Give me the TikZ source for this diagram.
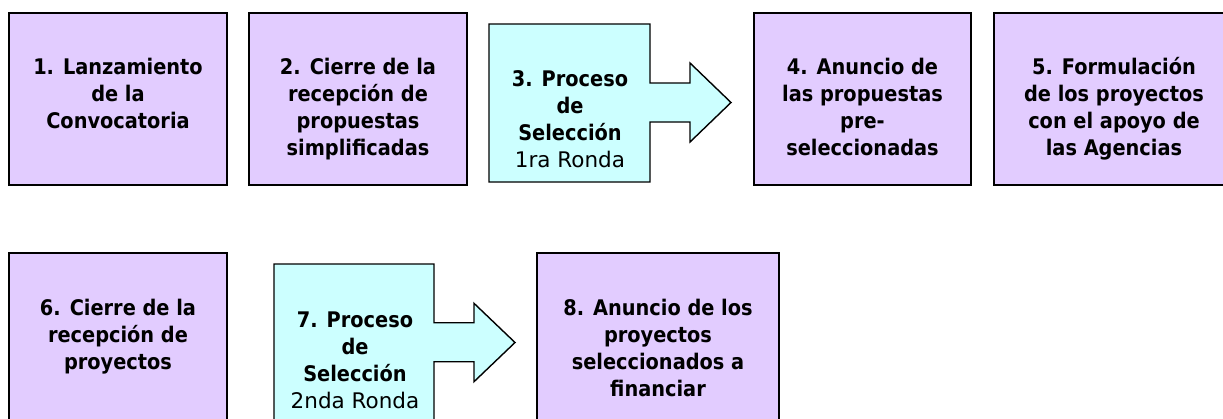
\documentclass[tikz,border=0pt]{standalone}
\usepackage{fontspec}
\setmainfont{DejaVu Sans Condensed}
\newfontfamily\regfont{DejaVu Sans}
\definecolor{lav}{RGB}{226,204,255}
\definecolor{cyanfill}{RGB}{204,255,255}
\tikzset{
  pbox/.style={draw=black, line width=1.4pt, fill=lav, rectangle, inner sep=0pt, outer sep=0pt},
  abox/.style={draw=black, line width=1.4pt, fill=cyanfill, line join=miter},
  txt/.style={anchor=north, inner sep=0pt, align=center, font=\fontsize{21.5}{27}\selectfont\bfseries},
}
\begin{document}
\begin{tikzpicture}[x=1pt,y=-1pt]
\useasboundingbox (0,0) rectangle (1223,418);
\clip (0,0) rectangle (1223,418);
% row 1
\node[pbox, minimum width=218pt, minimum height=172pt] (b1) at (118,99) {};
\node[pbox, minimum width=218pt, minimum height=172pt] (b2) at (358,99) {};
\draw[abox] (489,24) -- (650,24) -- (650,83) -- (690,83) -- (690,63) -- (731,102.5)
  -- (690,142) -- (690,122) -- (650,122) -- (650,182) -- (489,182) -- cycle;
\node[pbox, minimum width=217pt, minimum height=172pt] (b4) at (862.5,99) {};
\node[pbox, minimum width=240pt, minimum height=172pt] (b5) at (1114,99) {};
\node[txt] (t1) at (118,55.1) {\strut 1. Lanzamiento\\de la\\Convocatoria};
\node[txt] (t2) at (358,55.1) {\strut 2. Cierre de la\\recepción de\\propuestas\\simplificadas};
\node[txt] (t3) at (570,67.1) {\strut 3. Proceso\\de\\Selección\\{\regfont\mdseries 1ra Ronda}};
\node[txt] (t4) at (862.5,55.1) {\strut 4. Anuncio de\\las propuestas\\pre-\\seleccionadas};
\node[txt] (t5) at (1114,55.1) {\strut 5. Formulación\\de los proyectos\\con el apoyo de\\las Agencias};
% row 2
\node[pbox, minimum width=218pt, minimum height=180pt] (b6) at (118,343) {};
\draw[abox] (274,264) -- (434,264) -- (434,322.7) -- (474,322.7) -- (474,303.3) -- (515,342.5)
  -- (474,381.7) -- (474,361.7) -- (434,361.7) -- (434,440) -- (274,440) -- cycle;
\node[pbox, minimum width=242pt, minimum height=180pt] (b8) at (658,343) {};
\node[txt] (t6) at (118,296.1) {\strut 6. Cierre de la\\recepción de\\proyectos};
\node[txt] (t7) at (355,308.1) {\strut 7. Proceso\\de\\Selección\\{\regfont\mdseries 2nda Ronda}};
\node[txt] (t8) at (658,296.1) {\strut 8. Anuncio de los\\proyectos\\seleccionados a\\financiar};
\end{tikzpicture}
\end{document}
